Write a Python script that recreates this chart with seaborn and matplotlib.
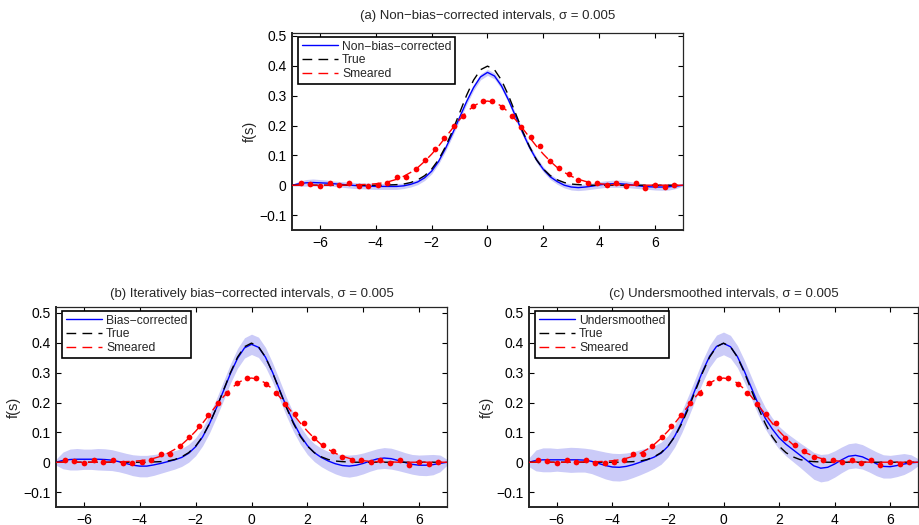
import numpy as np
import pandas as pd
import matplotlib
matplotlib.use("Agg")
import matplotlib.pyplot as plt
from matplotlib.ticker import FuncFormatter
import seaborn as sns

# ---------------- data ----------------
# sample grid for the smooth curves
S_GRID = [-7.0, -6.75, -6.5, -6.25, -6.0, -5.75, -5.5, -5.25,
          -5.0, -4.75, -4.5, -4.25, -4.0, -3.75, -3.5, -3.25,
          -3.0, -2.75, -2.5, -2.25, -2.0, -1.75, -1.5, -1.25,
          -1.0, -0.75, -0.5, -0.25, 0.0, 0.25, 0.5, 0.75,
          1.0, 1.25, 1.5, 1.75, 2.0, 2.25, 2.5, 2.75,
          3.0, 3.25, 3.5, 3.75, 4.0, 4.25, 4.5, 4.75,
          5.0, 5.25, 5.5, 5.75, 6.0, 6.25, 6.5, 6.75, 7.0]

TRUE_F = [0.000, 0.000, 0.000, 0.000, 0.000, 0.000, 0.000, 0.000,
          0.000, 0.000, 0.000, 0.000, 0.000, 0.000, 0.001, 0.002,
          0.004, 0.009, 0.018, 0.032, 0.054, 0.086, 0.130, 0.183,
          0.242, 0.301, 0.352, 0.387, 0.399, 0.387, 0.352, 0.301,
          0.242, 0.183, 0.130, 0.086, 0.054, 0.032, 0.018, 0.009,
          0.004, 0.002, 0.001, 0.000, 0.000, 0.000, 0.000, 0.000,
          0.000, 0.000, 0.000, 0.000, 0.000, 0.000, 0.000, 0.000, 0.000]

SMEARED_F = [0.000, 0.000, 0.000, 0.000, 0.000, 0.000, 0.000, 0.000,
             0.001, 0.001, 0.002, 0.003, 0.005, 0.008, 0.013, 0.020,
             0.030, 0.043, 0.059, 0.080, 0.104, 0.131, 0.161, 0.191,
             0.220, 0.245, 0.265, 0.278, 0.282, 0.278, 0.265, 0.245,
             0.220, 0.191, 0.161, 0.131, 0.104, 0.080, 0.059, 0.043,
             0.030, 0.020, 0.013, 0.008, 0.005, 0.003, 0.002, 0.001,
             0.001, 0.000, 0.000, 0.000, 0.000, 0.000, 0.000, 0.000, 0.000]

# observed (smeared) bin values, red dots
OBS_S = [-6.69, -6.35, -6.00, -5.64, -5.30, -4.96, -4.61, -4.27,
         -3.93, -3.59, -3.25, -2.91, -2.57, -2.23, -1.88, -1.54,
         -1.20, -0.86, -0.51, -0.17, 0.17, 0.51, 0.86, 1.20,
         1.54, 1.88, 2.23, 2.57, 2.91, 3.25, 3.59, 3.93,
         4.27, 4.61, 4.96, 5.30, 5.64, 6.00, 6.35, 6.69]
OBS_F = [0.008, 0.004, -0.004, 0.008, 0.000, 0.007, -0.001, -0.004,
         0.002, 0.007, 0.027, 0.027, 0.056, 0.083, 0.121, 0.157,
         0.200, 0.232, 0.266, 0.282, 0.281, 0.263, 0.232, 0.194,
         0.163, 0.133, 0.080, 0.058, 0.038, 0.019, 0.009, 0.006,
         0.002, 0.008, -0.003, 0.009, -0.010, 0.002, -0.006, 0.001]

# (a) non-bias-corrected estimate and interval half-width
EST_A = [0.000, 0.005, 0.008, 0.009, 0.008, 0.007, 0.005, 0.003,
         0.001, -0.001, -0.002, -0.003, -0.004, -0.004, -0.004, -0.004,
         -0.002, 0.003, 0.011, 0.025, 0.047, 0.080, 0.124, 0.174,
         0.227, 0.280, 0.327, 0.363, 0.378, 0.366, 0.333, 0.286,
         0.232, 0.178, 0.128, 0.086, 0.053, 0.028, 0.012, 0.000,
         -0.006, -0.008, -0.006, -0.003, 0.001, 0.004, 0.005, 0.005,
         0.003, 0.000, -0.003, -0.005, -0.006, -0.006, -0.005, -0.003, 0.000]
HW_A = [0.002, 0.008, 0.011, 0.012, 0.011, 0.010, 0.009, 0.009,
        0.010, 0.010, 0.010, 0.010, 0.010, 0.010, 0.010, 0.010,
        0.009, 0.009, 0.009, 0.009, 0.009, 0.009, 0.010, 0.010,
        0.010, 0.010, 0.010, 0.010, 0.010, 0.010, 0.010, 0.010,
        0.010, 0.010, 0.010, 0.009, 0.009, 0.009, 0.009, 0.009,
        0.010, 0.010, 0.010, 0.010, 0.011, 0.011, 0.012, 0.012,
        0.011, 0.010, 0.009, 0.009, 0.010, 0.011, 0.011, 0.008, 0.002]

# (b) iteratively bias-corrected estimate and interval half-width
EST_B = [0.000, 0.006, 0.009, 0.010, 0.010, 0.010, 0.010, 0.009,
         0.007, 0.002, -0.004, -0.010, -0.013, -0.013, -0.009, -0.004,
         0.002, 0.008, 0.016, 0.030, 0.052, 0.085, 0.130, 0.183,
         0.240, 0.298, 0.348, 0.383, 0.395, 0.385, 0.352, 0.302,
         0.244, 0.186, 0.134, 0.090, 0.056, 0.032, 0.016, 0.004,
         -0.005, -0.011, -0.013, -0.010, -0.004, 0.004, 0.011, 0.014,
         0.012, 0.006, -0.001, -0.007, -0.010, -0.010, -0.008, -0.004, 0.000]
HW_B = [0.010, 0.028, 0.035, 0.036, 0.034, 0.034, 0.036, 0.036,
        0.035, 0.034, 0.034, 0.035, 0.036, 0.036, 0.035, 0.033,
        0.032, 0.031, 0.030, 0.030, 0.030, 0.030, 0.031, 0.031,
        0.032, 0.032, 0.033, 0.034, 0.034, 0.034, 0.033, 0.032,
        0.032, 0.031, 0.031, 0.030, 0.030, 0.030, 0.031, 0.032,
        0.034, 0.036, 0.037, 0.036, 0.035, 0.034, 0.034, 0.035,
        0.035, 0.034, 0.033, 0.033, 0.034, 0.035, 0.034, 0.028, 0.010]

# (c) undersmoothed estimate and interval half-width
EST_C = [0.000, 0.006, 0.008, 0.008, 0.008, 0.008, 0.008, 0.008,
         0.007, 0.003, -0.004, -0.011, -0.016, -0.017, -0.014, -0.008,
         0.000, 0.008, 0.017, 0.030, 0.053, 0.088, 0.135, 0.190,
         0.248, 0.305, 0.355, 0.388, 0.398, 0.387, 0.354, 0.305,
         0.250, 0.195, 0.148, 0.112, 0.082, 0.060, 0.042, 0.024,
         0.006, -0.012, -0.020, -0.017, -0.006, 0.008, 0.020, 0.023,
         0.018, 0.007, -0.005, -0.014, -0.015, -0.011, -0.006, -0.002, 0.000]
HW_C = [0.015, 0.035, 0.040, 0.040, 0.038, 0.040, 0.042, 0.041,
        0.040, 0.041, 0.043, 0.045, 0.046, 0.046, 0.045, 0.043,
        0.042, 0.040, 0.038, 0.037, 0.036, 0.036, 0.036, 0.036,
        0.036, 0.037, 0.037, 0.038, 0.038, 0.038, 0.037, 0.037,
        0.036, 0.036, 0.036, 0.037, 0.038, 0.039, 0.040, 0.041,
        0.043, 0.045, 0.046, 0.045, 0.044, 0.043, 0.042, 0.042,
        0.041, 0.040, 0.040, 0.039, 0.038, 0.037, 0.035, 0.027, 0.012]

TITLES = ["(a) Non\u2212bias\u2212corrected intervals, \u03c3 = 0.005",
          "(b) Iteratively bias\u2212corrected intervals, \u03c3 = 0.005",
          "(c) Undersmoothed intervals, \u03c3 = 0.005"]
EST_LABELS = ["Non\u2212bias\u2212corrected", "Bias\u2212corrected", "Undersmoothed"]
X_TICKS = [-6, -4, -2, 0, 2, 4, 6]
Y_TICKS = [-0.1, 0, 0.1, 0.2, 0.3, 0.4, 0.5]

# ---------------- styling ----------------
sns.set_style("ticks")
plt.rcParams["font.family"] = ["Liberation Sans", "DejaVu Sans"]
plt.rcParams["axes.unicode_minus"] = True

W, H = 919, 525
fig = plt.figure(figsize=(W / 100, H / 100), dpi=100)

def rect(l, t, w, h):
    return [l / W, 1 - (t + h) / H, w / W, h / H]

axes = [fig.add_axes(rect(292, 33, 391, 197)),
        fig.add_axes(rect(56, 307, 391, 200)),
        fig.add_axes(rect(529, 307, 389, 200))]
ylims = [(-0.15, 0.51), (-0.15, 0.52), (-0.15, 0.52)]
title_pads = [10, 7, 7]
DASH = (0, (7, 4.5))

curves = pd.DataFrame({"s": S_GRID, "true": TRUE_F, "smeared": SMEARED_F})
obs = pd.DataFrame({"s": OBS_S, "f": OBS_F})
ests = [(EST_A, HW_A), (EST_B, HW_B), (EST_C, HW_C)]

fmt = FuncFormatter(lambda v, p: f"{v:g}".replace("-", "\u2212"))

for ax, (est, hw), title, lab, yl, tp in zip(axes, ests, TITLES, EST_LABELS,
                                           ylims, title_pads):
    df = curves.copy()
    df["est"] = est
    df["lo"] = np.array(est) - np.array(hw)
    df["hi"] = np.array(est) + np.array(hw)

    ax.fill_between(df["s"], df["lo"], df["hi"], color="#cbcbf8",
                    linewidth=0, zorder=1)
    sns.lineplot(data=df, x="s", y="est", ax=ax, color="#0000ff",
                 linewidth=1.0, zorder=3, label=lab)
    sns.lineplot(data=df, x="s", y="true", ax=ax, color="black",
                 linewidth=1.0, linestyle=DASH, zorder=4, label="True")
    sns.lineplot(data=df, x="s", y="smeared", ax=ax, color="#ff0000",
                 linewidth=1.0, linestyle=DASH, zorder=5, label="Smeared")
    sns.scatterplot(data=obs, x="s", y="f", ax=ax, color="#ff0000", s=17,
                    linewidth=0, zorder=6, legend=False)

    ax.set_xlim(-7, 7)
    ax.set_ylim(*yl)
    ax.set_xticks(X_TICKS)
    ax.set_yticks(Y_TICKS)
    ax.xaxis.set_major_formatter(fmt)
    ax.yaxis.set_major_formatter(fmt)
    ax.tick_params(direction="in", length=3.5, width=0.8, top=True,
                   right=True, labelsize=10, pad=4, colors="black")
    for side in ["top", "right"]:
        ax.spines[side].set_visible(True)
        ax.spines[side].set_linewidth(0.9)
    for side in ["left", "bottom"]:
        ax.spines[side].set_linewidth(1.4)
    ax.set_xlabel("")
    ax.set_ylabel("f(s)", fontsize=10.5, labelpad=2)
    ax.set_title(title, fontsize=9.5, pad=tp)

    handles = ax.get_lines()[:3]
    leg = ax.legend(handles=handles, labels=[lab, "True", "Smeared"],
                    loc="upper left", bbox_to_anchor=(6 / 391, 1 - 4 / 200),
                    borderaxespad=0, fancybox=False, framealpha=1,
                    edgecolor="black", handlelength=3.0, handletextpad=0.35,
                    labelspacing=0.15, borderpad=0.3, fontsize=8.7)
    leg.get_frame().set_linewidth(1.2)

fig.savefig("out.png", dpi=100)
